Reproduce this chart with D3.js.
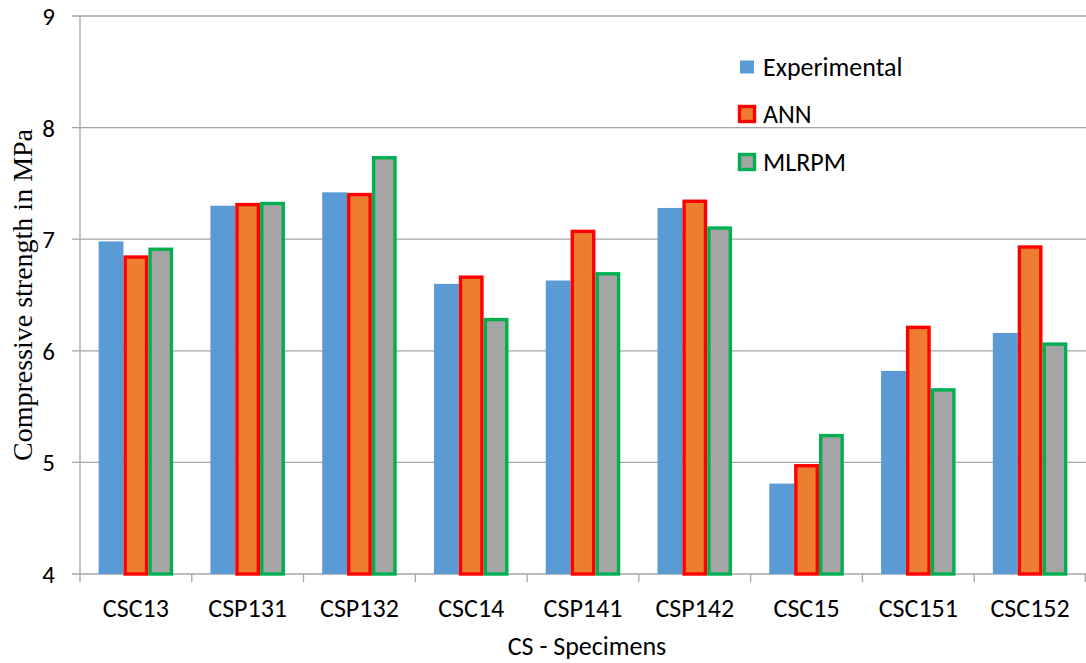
<!DOCTYPE html>
<html>
<head>
<meta charset="utf-8">
<script src="https://cdn.jsdelivr.net/npm/d3@7"></script>
<style>
  body { margin: 0; background: #fff; }
  svg { display: block; }
  .tick-label { font-family: Carlito, Lato, "Open Sans", sans-serif; font-size: 26px; fill: #000; }
</style>
</head>
<body>
<script>
'use strict';

const categories = ["CSC13", "CSP131", "CSP132", "CSC14", "CSP141", "CSP142", "CSC15", "CSC151", "CSC152"];
const seriesNames = ["Experimental", "ANN", "MLRPM"];
const experimental = [6.98, 7.30, 7.42, 6.60, 6.63, 7.28, 4.81, 5.82, 6.16];
const ann = [6.84, 7.31, 7.40, 6.66, 7.07, 7.34, 4.97, 6.21, 6.93];
const mlrpm = [6.91, 7.32, 7.73, 6.28, 6.69, 7.10, 5.24, 5.65, 6.06];
const yTicks = [4, 5, 6, 7, 8, 9];

(function() {
  let width = 1086, height = 663;
  let left = 80, right = 1086, top = 16, bottom = 574;

  let fills = { "Experimental": "#5b9bd5", "ANN": "#ed7d31", "MLRPM": "#a5a5a5" };
  let strokes = { "Experimental": "none", "ANN": "#ff0000", "MLRPM": "#00b050" };
  let values = { "Experimental": experimental, "ANN": ann, "MLRPM": mlrpm };

  let svg = d3.select('body').append('svg')
    .attr('width', width)
    .attr('height', height);

  // scales
  let x0 = d3.scaleBand().domain(categories).range([left, right]).padding(0);
  let bw = x0.bandwidth();
  let x1 = d3.scaleBand().domain(seriesNames)
    .range([bw * 0.75 / 4.5, bw * 3.75 / 4.5]).padding(0);
  let y = d3.scaleLinear().domain([4, 9]).range([bottom, top]);

  // gridlines (with short tick stubs on the left)
  svg.append('g').selectAll('line')
    .data(yTicks)
    .enter().append('line')
      .attr('x1', left - 8)
      .attr('x2', right)
      .attr('y1', d => y(d))
      .attr('y2', d => y(d))
      .attr('stroke', '#a6a6a6')
      .attr('stroke-width', 1.3);

  // y axis line
  svg.append('line')
    .attr('x1', left).attr('x2', left)
    .attr('y1', top).attr('y2', bottom)
    .attr('stroke', '#a6a6a6')
    .attr('stroke-width', 1.3);

  // y tick labels
  svg.append('g').selectAll('text')
    .data(yTicks)
    .enter().append('text')
      .attr('class', 'tick-label')
      .attr('x', left - 25)
      .attr('y', d => y(d))
      .attr('dy', '0.36em')
      .attr('text-anchor', 'end')
      .style('font-size', '25px')
      .text(d => d);

  // x category boundary ticks
  let bounds = categories.map(c => x0(c)).concat([right - 0.7]);
  svg.append('g').selectAll('line')
    .data(bounds)
    .enter().append('line')
      .attr('x1', d => d).attr('x2', d => d)
      .attr('y1', bottom).attr('y2', bottom + 8)
      .attr('stroke', '#a6a6a6')
      .attr('stroke-width', 1.3);

  // bars
  let groups = svg.append('g').selectAll('g')
    .data(categories)
    .enter().append('g')
      .attr('transform', d => 'translate(' + x0(d) + ',0)');

  groups.selectAll('rect')
    .data((c, i) => seriesNames.map(s => ({ s: s, v: values[s][i] })))
    .enter().append('rect')
      .attr('x', d => x1(d.s) + (strokes[d.s] == 'none' ? 0 : 1.7))
      .attr('y', d => y(d.v))
      .attr('width', d => x1.bandwidth() - (strokes[d.s] == 'none' ? 0 : 3.4))
      .attr('height', d => y(4) - y(d.v))
      .attr('fill', d => fills[d.s])
      .attr('stroke', d => strokes[d.s])
      .attr('stroke-width', 3.4);

  // x labels
  svg.append('g').selectAll('text')
    .data(categories)
    .enter().append('text')
      .attr('class', 'tick-label')
      .attr('x', d => x0(d) + bw / 2)
      .attr('y', 617)
      .attr('text-anchor', 'middle')
      .text(d => d);

  // axis titles
  svg.append('text')
    .attr('class', 'tick-label')
    .attr('x', 587)
    .attr('y', 655)
    .attr('text-anchor', 'middle')
    .text('CS - Specimens');

  svg.append('text')
    .attr('transform', 'translate(32, 295)rotate(-90)')
    .attr('text-anchor', 'middle')
    .style('font-family', '"Liberation Serif", "Times New Roman", serif')
    .style('font-size', '28px')
    .attr('fill', '#000')
    .text('Compressive strength in MPa');

  // legend
  let legendY = [67, 114, 162];
  let legend = svg.append('g').selectAll('g')
    .data(seriesNames)
    .enter().append('g')
      .attr('transform', (d, i) => 'translate(740,' + legendY[i] + ')');

  legend.append('rect')
    .attr('x', d => strokes[d] == 'none' ? 0 : -0.5)
    .attr('y', d => strokes[d] == 'none' ? -6.5 : -7.5)
    .attr('width', d => strokes[d] == 'none' ? 14 : 15)
    .attr('height', d => strokes[d] == 'none' ? 13 : 15)
    .attr('fill', d => fills[d])
    .attr('stroke', d => strokes[d])
    .attr('stroke-width', 3.4);

  legend.append('text')
    .attr('class', 'tick-label')
    .attr('x', 23)
    .attr('dy', '0.36em')
    .text(d => d);
})();
</script>
</body>
</html>
